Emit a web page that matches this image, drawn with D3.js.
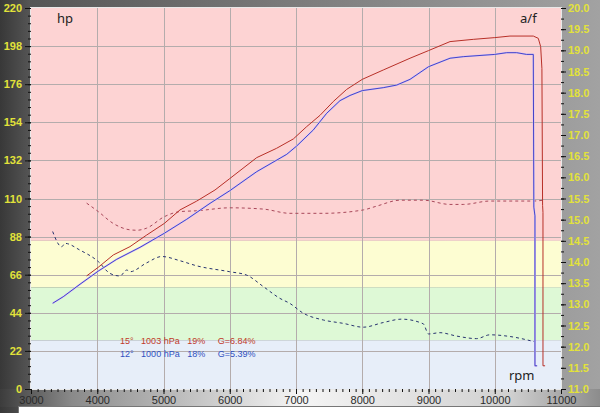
<!DOCTYPE html>
<html>
<head>
<meta charset="utf-8">
<script src="https://cdn.jsdelivr.net/npm/d3@7"></script>
<style>
  body { margin: 0; background: #fff; }
  svg { display: block; font-family: "Noto Sans", "DejaVu Sans", sans-serif; }
</style>
</head>
<body>
<div id="chart"></div>
<script>
// tick values
var rpmTicks = [3000, 4000, 5000, 6000, 7000, 8000, 9000, 10000, 11000]
var hpTicks = [0, 22, 44, 66, 88, 110, 132, 154, 176, 198, 220]
var afTicks = [11, 11.5, 12, 12.5, 13, 13.5, 14, 14.5, 15, 15.5, 16, 16.5, 17, 17.5, 18, 18.5, 19, 19.5, 20]

// a/f bands (top -> bottom)
var bandEdges = [20, 14.5, 13.4, 12.15, 11]
var bandColors = ["#fdd3d3", "#fdfdd2", "#def9d6", "#e7eef9"]

// run 1: 15deg 1003 hPa (red)
var hpRedRpm = [3840, 4016, 4242, 4494, 4746, 5012, 5249, 5501, 5777, 6000, 6407, 6708, 6960, 7161, 7362, 7563, 7765, 8000, 8317, 8721, 9000, 9325, 9676, 10000, 10230, 10582, 10657, 10693, 10712, 10722, 10728, 10728, 10760]
var hpRedVal = [65.3, 70.3, 77.4, 82.2, 88.9, 95.6, 103.4, 108.5, 114.9, 121.5, 133.6, 139, 144.4, 151.5, 158, 166, 173, 178.8, 184.2, 191, 195.4, 200.6, 201.9, 202.9, 203.8, 203.8, 202.5, 197.7, 185, 106, 102, 13.4, 13.4]
var afRedRpm = [3840, 4016, 4242, 4494, 4600, 4746, 5012, 5249, 5501, 6000, 6506, 6909, 7412, 8016, 8218, 8570, 8921, 9325, 9525, 9928, 10582, 10733]
var afRedVal = [15.39, 15.19, 14.91, 14.76, 14.75, 14.8, 15.07, 15.19, 15.21, 15.28, 15.25, 15.15, 15.15, 15.23, 15.32, 15.46, 15.46, 15.36, 15.36, 15.44, 15.44, 15.46]

// run 2: 12deg 1000 hPa (blue)
var hpBlueRpm = [3327, 3487, 3740, 4016, 4294, 4645, 5012, 5350, 5702, 6000, 6407, 6860, 7010, 7262, 7463, 7664, 7815, 8000, 8317, 8520, 8721, 9000, 9325, 9525, 10000, 10180, 10331, 10480, 10582, 10590, 10607, 10607, 10640]
var hpBlueVal = [49.5, 53.3, 60.5, 68.1, 74.9, 81.8, 89.9, 98, 107.2, 114.5, 125.5, 135.5, 140.3, 149.6, 159.2, 166.5, 169.5, 172.3, 174, 175.5, 178.8, 186.1, 191, 191.9, 193.2, 194.2, 194.2, 193.2, 193.2, 105, 100, 13.4, 13.4]
var afBlueRpm = [3327, 3463, 3513, 3740, 4016, 4192, 4343, 4445, 4494, 4746, 4973, 5249, 5501, 6000, 6256, 6506, 6758, 6909, 7110, 7412, 7714, 8016, 8317, 8595, 8921, 9000, 9174, 9425, 9727, 9928, 10230, 10592]
var afBlueVal = [14.72, 14.36, 14.44, 14.28, 14.01, 13.73, 13.67, 13.81, 13.77, 13.98, 14.13, 14.03, 13.91, 13.77, 13.69, 13.42, 13.14, 13.02, 12.79, 12.63, 12.55, 12.46, 12.57, 12.65, 12.54, 12.3, 12.33, 12.25, 12.19, 12.28, 12.24, 12.12]

var legendLines = ["15°   1003 hPa   19%     G=6.84%", "12°   1000 hPa   18%     G=5.39%"]
var legendColors = ["#c0392b", "#3050c0"]

var W = 600, H = 413
var margin = { top: 8, right: 39, bottom: 24, left: 31 }

var svg = d3.select("#chart").append("svg")
  .attr("width", W)
  .attr("height", H)

var defs = svg.append("defs")
var frameGrad = defs.append("linearGradient").attr("id", "frame")
frameGrad.append("stop").attr("offset", "0").attr("stop-color", "#383838")
frameGrad.append("stop").attr("offset", "0.05").attr("stop-color", "#555")
frameGrad.append("stop").attr("offset", "0.5").attr("stop-color", "#7c7c7c")
frameGrad.append("stop").attr("offset", "1").attr("stop-color", "#a2a2a2")
var bottomGrad = defs.append("linearGradient").attr("id", "bottom")
bottomGrad.append("stop").attr("offset", "0").attr("stop-color", "#3c3c3c")
bottomGrad.append("stop").attr("offset", "0.12").attr("stop-color", "#8a8a8a")
bottomGrad.append("stop").attr("offset", "0.5").attr("stop-color", "#f5f5f5")
bottomGrad.append("stop").attr("offset", "0.85").attr("stop-color", "#d0d0d0")
bottomGrad.append("stop").attr("offset", "1").attr("stop-color", "#8c8c8c")

svg.append("rect").attr("width", W).attr("height", H).attr("fill", "url(#frame)")
svg.append("rect").attr("x", 0).attr("y", H - margin.bottom).attr("width", W).attr("height", 18).attr("fill", "url(#bottom)")
svg.append("rect").attr("x", 18.5).attr("y", 406.5).attr("width", 590).attr("height", 10)
  .attr("fill", "#fff").attr("stroke", "#777")

var x = d3.scaleLinear().domain([3000, 11000]).range([margin.left, W - margin.right])
var yHp = d3.scaleLinear().domain([0, 220]).range([H - margin.bottom, margin.top])
var yAf = d3.scaleLinear().domain([11, 20]).range([H - margin.bottom, margin.top])

// bands
svg.append("g").selectAll("rect")
  .data(bandColors)
  .enter().append("rect")
  .attr("x", x(3000))
  .attr("width", x(11000) - x(3000))
  .attr("y", (d, i) => yAf(bandEdges[i]))
  .attr("height", (d, i) => yAf(bandEdges[i + 1]) - yAf(bandEdges[i]))
  .attr("fill", d => d)

// grid
var grid = svg.append("g").attr("stroke", "#b4acac").attr("stroke-width", 1)
grid.selectAll(".v").data(rpmTicks.slice(1, -1)).enter().append("line")
  .attr("x1", d => Math.round(x(d)) + 0.5).attr("x2", d => Math.round(x(d)) + 0.5)
  .attr("y1", yHp(220)).attr("y2", yHp(0))
grid.selectAll(".h").data(hpTicks.slice(1, -1)).enter().append("line")
  .attr("y1", d => Math.round(yHp(d)) + 0.5).attr("y2", d => Math.round(yHp(d)) + 0.5)
  .attr("x1", x(3000)).attr("x2", x(11000))

svg.append("rect")
  .attr("x", x(3000) - 0.5).attr("y", yHp(220) - 0.5)
  .attr("width", x(11000) - x(3000) + 1).attr("height", yHp(0) - yHp(220) + 1)
  .attr("fill", "none").attr("stroke", "#e8e8e8")

// axes
function styleAxis(g, color, size) {
  g.select(".domain").remove()
  g.selectAll(".tick line").attr("stroke", "#111")
  g.selectAll(".tick text").attr("fill", color).style("font-size", size)
}

svg.append("g").attr("transform", "translate(" + x(3000) + ",0)")
  .call(d3.axisLeft(yHp).tickValues(d3.range(0, 220.1, 4.4)).tickSize(3).tickFormat(""))
  .call(g => styleAxis(g, "#e0e040", "11px"))
svg.append("g").attr("transform", "translate(" + x(3000) + ",0)")
  .call(d3.axisLeft(yHp).tickValues(hpTicks).tickSize(6).tickPadding(3))
  .call(g => styleAxis(g, "#e2e23a", "11px"))
  .selectAll("text").style("font-weight", "bold")

svg.append("g").attr("transform", "translate(" + x(11000) + ",0)")
  .call(d3.axisRight(yAf).tickValues(d3.range(11, 20.01, 0.25)).tickSize(3).tickFormat(""))
  .call(g => styleAxis(g, "#e0e040", "11px"))
svg.append("g").attr("transform", "translate(" + x(11000) + ",0)")
  .call(d3.axisRight(yAf).tickValues(afTicks).tickSize(5).tickPadding(2).tickFormat(d3.format(".1f")))
  .call(g => styleAxis(g, "#e2e23a", "11px"))
  .selectAll("text").style("font-weight", "bold")

svg.append("g").attr("transform", "translate(0," + yHp(0) + ")")
  .call(d3.axisBottom(x).tickValues(d3.range(3000, 11001, 100)).tickSize(3).tickFormat(""))
  .call(g => styleAxis(g, "#222", "11px"))
svg.append("g").attr("transform", "translate(0," + yHp(0) + ")")
  .call(d3.axisBottom(x).tickValues(rpmTicks).tickSize(5).tickPadding(2).tickFormat(d3.format("d")))
  .call(g => styleAxis(g, "#2a2a2a", "11px"))

// curves
var hpLine = d3.line().x(d => x(d[0])).y(d => yHp(d[1]))
var afLine = d3.line().x(d => x(d[0])).y(d => yAf(d[1])).curve(d3.curveMonotoneX)

var hpRed = d3.zip(hpRedRpm, hpRedVal)
var hpBlue = d3.zip(hpBlueRpm, hpBlueVal)
var afRed = d3.zip(afRedRpm, afRedVal)
var afBlue = d3.zip(afBlueRpm, afBlueVal)

svg.append("path").datum(afRed).attr("d", afLine)
  .attr("fill", "none").attr("stroke", "#a8485a").attr("stroke-width", 1).attr("stroke-dasharray", "3,3")
svg.append("path").datum(afBlue).attr("d", afLine)
  .attr("fill", "none").attr("stroke", "#283470").attr("stroke-width", 1).attr("stroke-dasharray", "3,3")

svg.append("path").datum(hpBlue).attr("d", hpLine)
  .attr("fill", "none").attr("stroke", "#d4c4f4").attr("stroke-width", 1.8)
svg.append("path").datum(hpBlue).attr("d", hpLine)
  .attr("fill", "none").attr("stroke", "#3434c4").attr("stroke-width", 0.9)
svg.append("path").datum(hpRed).attr("d", hpLine)
  .attr("fill", "none").attr("stroke", "#b83028").attr("stroke-width", 1)

// labels
svg.append("text").attr("x", 57).attr("y", 23).attr("fill", "#222").style("font-size", "13px").text("hp")
svg.append("text").attr("x", 520).attr("y", 23).attr("fill", "#222").style("font-size", "13px").text("a/f")
svg.append("text").attr("x", 509).attr("y", 380).attr("fill", "#222").style("font-size", "13px").text("rpm")

svg.append("g").selectAll("text")
  .data(legendLines)
  .enter().append("text")
  .attr("x", 120)
  .attr("y", (d, i) => 343.5 + i * 13)
  .attr("fill", (d, i) => legendColors[i])
  .style("font-family", "'Liberation Sans', Arial, sans-serif")
  .style("font-size", "9px")
  .style("white-space", "pre")
  .attr("xml:space", "preserve")
  .text(d => d)
</script>
</body>
</html>
